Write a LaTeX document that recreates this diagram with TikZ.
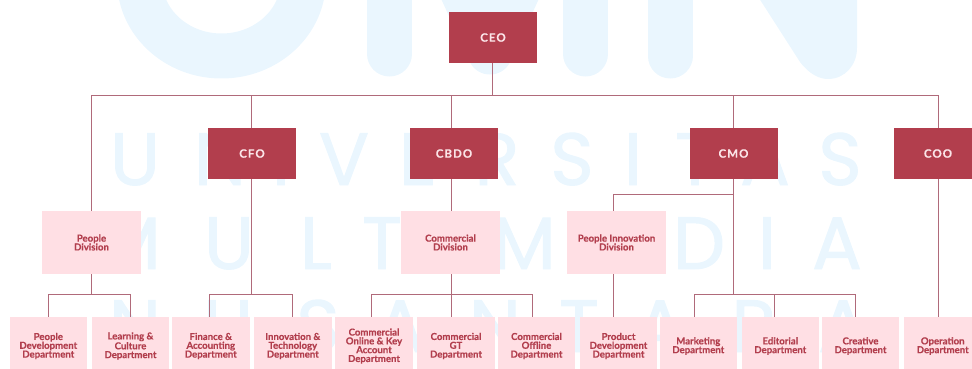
\documentclass[tikz,border=0pt]{standalone}
\usepackage{fontspec}
\setmainfont{Lato}
\newfontfamily\wmfont[FakeBold=1.3]{Poppins}
\newfontfamily\latob[FakeBold=0.35]{Lato Bold}
\newfontfamily\execfont[LetterSpace=9,FakeBold=0.3]{Lato Bold}
\definecolor{wine}{HTML}{B23E4D}
\definecolor{blush}{HTML}{FFDFE4}
\definecolor{wirecol}{HTML}{B06A7A}
\definecolor{wmblue}{HTML}{EAF6FE}
\definecolor{pale}{HTML}{FBE4E8}
\tikzset{
  exec/.style={fill=wine,text=pale,minimum width=88pt,minimum height=51pt,inner sep=0pt,font=\execfont\fontsize{11.5}{12}\selectfont},
  divbox/.style={fill=blush,text=wine,minimum width=99pt,minimum height=63pt,inner sep=0pt,align=center,font=\latob\fontsize{9.6}{8.8}\selectfont},
  deptbox/.style={fill=blush,text=wine,minimum width=77.5pt,minimum height=58pt,inner sep=0pt,align=center,font=\latob\fontsize{9.6}{8.8}\selectfont},
  wire/.style={draw=wirecol,line width=0.8pt},
  wmtext/.style={text=wmblue,anchor=base,inner sep=0pt,font=\wmfont\fontsize{74}{74}\selectfont},
  wmstroke/.style={draw=wmblue,line width=45pt,line cap=round,line join=round}
}
\begin{document}
\begin{tikzpicture}[x=1pt,y=-1pt]
\useasboundingbox (0,0) rectangle (972,368);
\clip (0,0) rectangle (972,368);
% watermark
\draw[wmstroke] (139.5,-60) -- (139.5,-20) arc[start angle=180,end angle=0,x radius=82,y radius=76] -- (303.5,-60);
\draw[wmstroke] (389.5,-60) -- (389.5,54);
\draw[wmstroke] (430,-80) -- (490,52) -- (550,-80);
\draw[wmstroke] (585.5,-60) -- (585.5,54);
\draw[wmstroke] (670,-60) -- (670,56);
\fill[wmblue] (757,-5) -- (800,62) .. controls (810,75) and (820,79) .. (828,79) .. controls (845,79) and (857,65) .. (857,48) -- (857,-5) -- cycle;
\foreach \c/\p in {U/135,N/220,I/281,V/344,E/418,R/497,S/572,I/633,T/695,A/765,S/840}
  \node[wmtext] at (\p,185) {\c};
\foreach \c/\p in {M/129,U/229,L/316,T/382,I/450,M/524,E/610,D/699,I/767,A/837}
  \node[wmtext] at (\p,269) {\c};
\foreach \c/\p in {N/135,U/228,S/318,A/400,N/495,T/579,A/660,R/754,A/843}
  \node[wmtext] at (\p,352) {\c};
% executives
\node[exec] (ceo) at (493,37.5) {CEO};
\node[exec] (cfo) at (252,153.5) {CFO};
\node[exec] (cbdo) at (454,153.5) {CBDO};
\node[exec] (cmo) at (733.5,153.5) {CMO};
\node[exec] (coo) at (938,153.5) {COO};
% divisions
\node[divbox] (pdiv) at (91.5,242.5) {People\\Division};
\node[divbox] (cdiv) at (450.5,242.5) {Commercial\\Division};
\node[divbox] (idiv) at (616.5,242.5) {People Innovation\\Division};
% departments
\node[deptbox] (d1) at (48.3,346) {People\\Development\\Department};
\node[deptbox] (d2) at (130.5,346) {Learning \&\\Culture\\Department};
\node[deptbox] (d3) at (210.8,346) {Finance \&\\Accounting\\Department};
\node[deptbox] (d4) at (292.8,346) {Innovation \&\\Technology\\Department};
\node[deptbox] (d5) at (374,346) {Commercial\\Online \& Key\\Account\\Department};
\node[deptbox] (d6) at (456,346) {Commercial\\GT\\Department};
\node[deptbox] (d7) at (536.5,346) {Commercial\\Offline\\Department};
\node[deptbox] (d8) at (618.5,346) {Product\\Development\\Department};
\node[deptbox] (d9) at (698.3,346) {Marketing\\Department};
\node[deptbox] (d10) at (780.3,346) {Editorial\\Department};
\node[deptbox] (d11) at (860.5,346) {Creative\\Department};
\node[deptbox] (d12) at (942.7,346) {Operation\\Department};
% junctions
\coordinate (top) at (492,95.5);
\coordinate (bl) at (91.5,95.5);
\coordinate (br) at (938.5,95.5);
\coordinate (jcfo) at (251,95.5);
\coordinate (jcbdo) at (451.5,95.5);
\coordinate (jcmo) at (733.5,95.5);
\coordinate (ja) at (48,294.5);
\coordinate (jb) at (130.5,294.5);
\coordinate (jc) at (209.5,294.5);
\coordinate (jd) at (292,294.5);
\coordinate (je) at (371.5,294.5);
\coordinate (jf) at (532.5,294.5);
\coordinate (jg) at (694,294.5);
\coordinate (jh) at (774.5,294.5);
\coordinate (ji) at (855.5,294.5);
\coordinate (jp) at (613.5,194.5);
% connectors
\draw[wire] (top |- ceo.south) -- (top);
\draw[wire] (pdiv.north -| bl) -- (bl) -- (br) -- (br |- coo.north);
\draw[wire] (jcfo) -- (jcfo |- cfo.north);
\draw[wire] (jcbdo) -- (jcbdo |- cbdo.north);
\draw[wire] (jcmo) -- (jcmo |- cmo.north);
\draw[wire] (bl |- pdiv.south) -- (bl |- ja);
\draw[wire] (ja |- d1.north) -- (ja) -- (jb) -- (jb |- d2.north);
\draw[wire] (jcfo |- cfo.south) -- (jcfo |- jc);
\draw[wire] (jc |- d3.north) -- (jc) -- (jd) -- (jd |- d4.north);
\draw[wire] (jcbdo |- cbdo.south) -- (jcbdo |- cdiv.north);
\draw[wire] (jcbdo |- cdiv.south) -- (jcbdo |- d6.north);
\draw[wire] (je |- d5.north) -- (je) -- (jf) -- (jf |- d7.north);
\draw[wire] (jcmo |- cmo.south) -- (jcmo |- jg);
\draw[wire] (jcmo |- jp) -- (jp) -- (jp |- idiv.north);
\draw[wire] (jp |- idiv.south) -- (jp |- d8.north);
\draw[wire] (jg |- d9.north) -- (jg) -- (ji) -- (ji |- d11.north);
\draw[wire] (jh) -- (jh |- d10.north);
\draw[wire] (br |- coo.south) -- (br |- d12.north);
\end{tikzpicture}
\end{document}
